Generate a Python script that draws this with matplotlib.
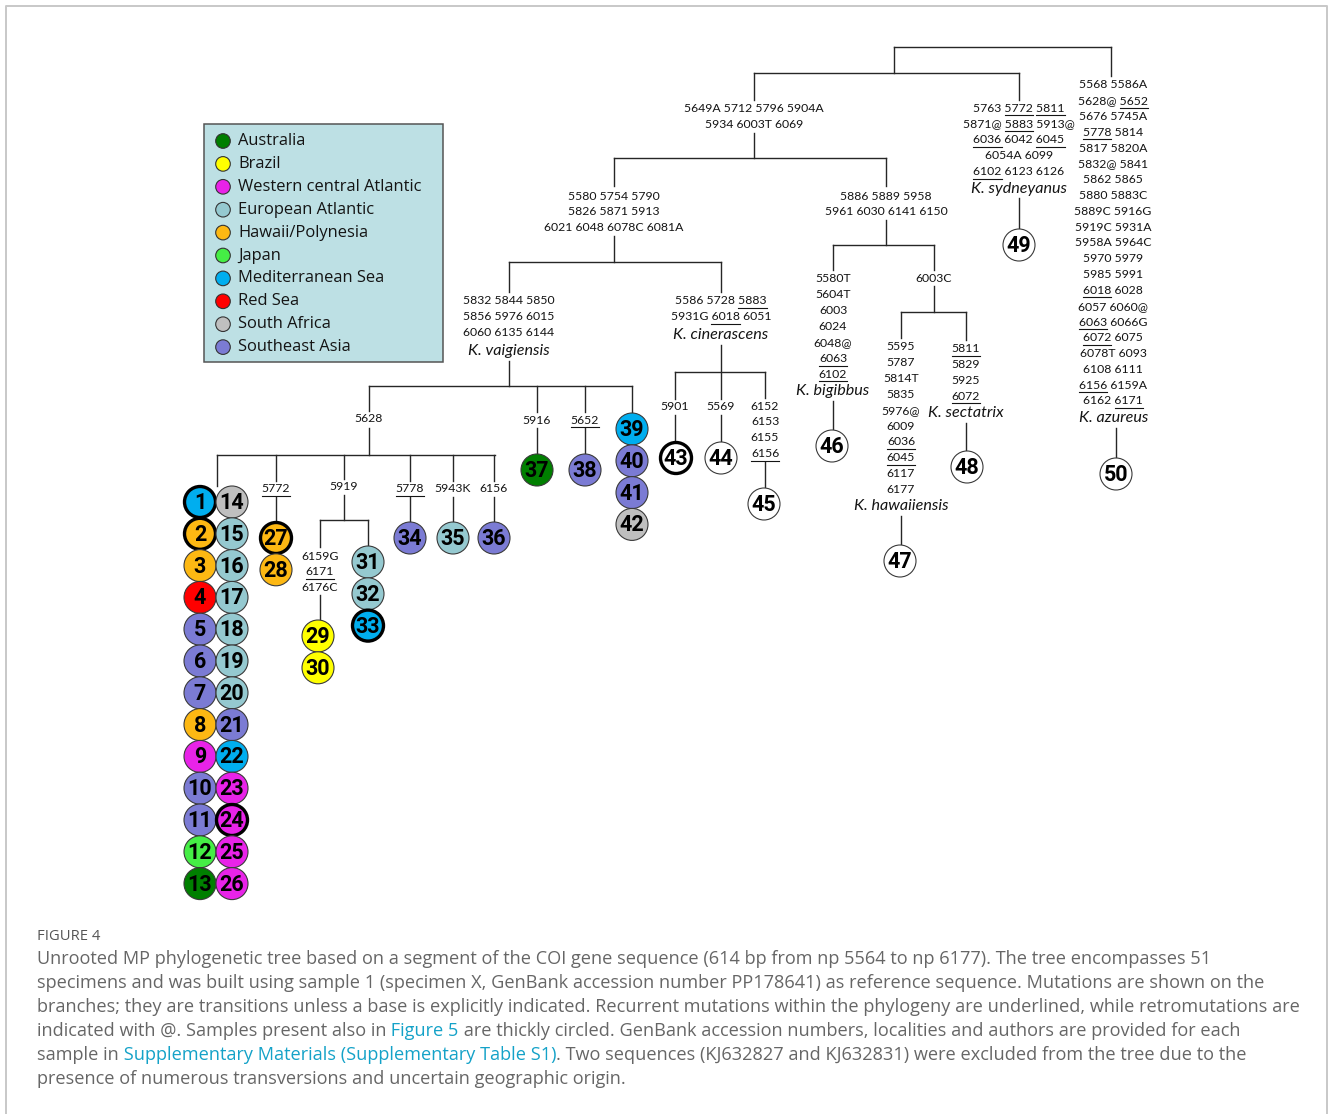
import matplotlib.pyplot as plt
from matplotlib.patches import Circle, Rectangle

# regions in legend order and their colours
regions = ["Australia", "Brazil", "Western central Atlantic", "European Atlantic",
           "Hawaii/Polynesia", "Japan", "Mediterranean Sea", "Red Sea",
           "South Africa", "Southeast Asia"]
region_colors = ["#007F00", "#FFFF00", "#E823E8", "#95C9D0", "#FDB813",
                 "#45EE45", "#00AEEF", "#FF0000", "#BFBFBF", "#7B7BD4"]

# region index of samples 1..42 (43-50 have no region -> white)
sample_region = [6, 4, 4, 7, 9, 9, 9, 4, 2, 9, 9, 5, 0,
                 8, 3, 3, 3, 3, 3, 3, 9, 6, 2, 2, 2, 2,
                 4, 4, 1, 1, 3, 3, 6, 9, 3, 9, 0, 9, 6, 9, 9, 8]
thick = [1, 2, 24, 27, 33, 43]

# mutations on the branches, "_" marks an underlined (recurrent) one
mut_a = ["5649A 5712 5796 5904A", "5934 6003T 6069"]
mut_b = ["5580 5754 5790", "5826 5871 5913", "6021 6048 6078C 6081A"]
mut_vaig = ["5832 5844 5850", "5856 5976 6015", "6060 6135 6144"]
mut_ciner = ["5586 5728 _5883", "5931G _6018 6051"]
mut_c = ["5886 5889 5958", "5961 6030 6141 6150"]
mut_bigib = ["5580T", "5604T", "6003", "6024", "6048@", "_6063", "_6102"]
mut_d = ["6003C"]
mut_hawaii = ["5595", "5787", "5814T", "5835", "5976@", "6009", "_6036", "_6045", "6117", "6177"]
mut_sect = ["_5811", "5829", "5925", "_6072"]
mut_sydn = ["5763 _5772 _5811", "5871@ _5883 5913@", "_6036 6042 _6045", "6054A 6099", "_6102 6123 6126"]
mut_azur = ["5568 5586A", "5628@ _5652", "5676 5745A", "_5778 5814", "5817 5820A",
            "5832@ 5841", "5862 5865", "5880 5883C", "5889C 5916G", "5919C 5931A",
            "5958A 5964C", "5970 5979", "5985 5991", "_6018 6028", "6057 6060@",
            "_6063 6066G", "_6072 6075", "6078T 6093", "6108 6111", "_6156 6159A", "6162 _6171"]
mut_5628 = ["5628"]
mut_27 = ["_5772"]
mut_5919 = ["5919"]
mut_29 = ["6159G", "_6171", "6176C"]
mut_34 = ["_5778"]
mut_35 = ["5943K"]
mut_36 = ["6156"]
mut_37 = ["5916"]
mut_38 = ["_5652"]
mut_43 = ["5901"]
mut_44 = ["5569"]
mut_45 = ["6152", "6153", "6155", "_6156"]

caption_title = "FIGURE 4"
caption_lines = [
    ["Unrooted MP phylogenetic tree based on a segment of the COI gene sequence (614 bp from np 5564 to np 6177). The tree encompasses 51"],
    ["specimens and was built using sample 1 (specimen X, GenBank accession number PP178641) as reference sequence. Mutations are shown on the"],
    ["branches; they are transitions unless a base is explicitly indicated. Recurrent mutations within the phylogeny are underlined, while retromutations are"],
    ["indicated with @. Samples present also in", " Figure 5", " are thickly circled. GenBank accession numbers, localities and authors are provided for each"],
    ["sample in", " Supplementary Materials (Supplementary Table S1)", ". Two sequences (KJ632827 and KJ632831) were excluded from the tree due to the"],
    ["presence of numerous transversions and uncertain geographic origin."],
]

W, H = 1330, 1114
fig = plt.figure(figsize=(W / 100, H / 100), dpi=100)
ax = fig.add_axes([0, 0, 1, 1])
ax.set_xlim(0, W)
ax.set_ylim(H, 0)
ax.axis("off")
renderer = fig.canvas.get_renderer()

LC = "#262626"
TREE_FONT = "Lato"


def seg(x0, y0, x1, y1):
    ax.plot([x0, x1], [y0, y1], color=LC, lw=1.0, solid_capstyle="projecting", zorder=1)


def text_width(s, **kw):
    t = ax.text(0, 0, s, **kw)
    w = t.get_window_extent(renderer).width
    t.remove()
    return w


def label(x, y, s, size=8.8, italic=False):
    plain = s.replace("_", "")
    kw = dict(fontsize=size, family=TREE_FONT, style="italic" if italic else "normal")
    ax.text(x, y, plain, ha="center", va="center", color="#141414", zorder=3, **kw)
    if "_" in s:
        total = text_width(plain, **kw)
        left = x - total / 2
        toks = s.split(" ")
        for k, tok in enumerate(toks):
            if tok.startswith("_"):
                pre = " ".join(toks[:k + 1]).replace("_", "")
                w_end = text_width(pre, **kw)
                w_tok = text_width(tok[1:], **kw)
                ax.plot([left + w_end - w_tok, left + w_end], [y + 7, y + 7],
                        color="#141414", lw=0.8, zorder=3)


def labels(x, y0, lines, step=15.9):
    for i, s in enumerate(lines):
        label(x, y0 + i * step, s)


def species(x, y, name):
    label(x, y, name, size=11.6, italic=True)


def stack(x, y0, samples, step=31.8):
    for i, n in enumerate(samples):
        y = y0 + i * step
        if n <= len(sample_region):
            fc = region_colors[sample_region[n - 1]]
        else:
            fc = "white"
        if n in thick:
            ax.add_patch(Circle((x, y), 15.5, facecolor=fc, edgecolor="black", lw=2.4, zorder=4))
        else:
            ax.add_patch(Circle((x, y), 16, facecolor=fc, edgecolor="#3a3a3a", lw=0.8, zorder=4))
        ax.text(x, y + 1, str(n), ha="center", va="center", fontsize=15.5,
                fontweight="bold", family="Roboto", color="black", zorder=5)


# outer frame
ax.plot([6, 6, 1327, 1327], [1130, 6, 6, 1130], color="#c8c8c8", lw=1.4, zorder=0)

# ---- top of the tree
seg(894, 47, 1111, 47)
seg(894, 47, 894, 73)
seg(1111, 47, 1111, 76)
seg(754, 73, 1019, 73)
seg(754, 73, 754, 100)
seg(1019, 73, 1019, 100)
labels(754, 109, mut_a)
seg(754, 133, 754, 158)
seg(614, 158, 886, 158)

# K. vaigiensis / K. cinerascens clade
seg(614, 158, 614, 186)
labels(614, 196, mut_b)
seg(614, 236, 614, 262)
seg(509, 262, 721, 262)
seg(509, 262, 509, 292)
labels(509, 301, mut_vaig)
species(509, 351, "K. vaigiensis")
seg(509, 361, 509, 386)
seg(369, 386, 632, 386)

seg(369, 386, 369, 411)
labels(369, 419, mut_5628)
seg(369, 428, 369, 455)
seg(217, 455, 495, 455)
seg(217, 455, 217, 486)
stack(200, 502, list(range(1, 14)))
stack(232, 502, list(range(14, 27)))

seg(276, 455, 276, 481)
labels(276, 489, mut_27)
seg(276, 497, 276, 522)
stack(276, 538, [27, 28])

seg(344, 455, 344, 479)
labels(344, 487, mut_5919)
seg(344, 495, 344, 520)
seg(320, 520, 368, 520)
seg(320, 520, 320, 547)
labels(320, 556, mut_29)
seg(320, 595, 320, 620)
stack(318, 636, [29, 30])
seg(368, 520, 368, 546)
stack(368, 562, [31, 32, 33])

for xb, mut, n in [(410, mut_34, 34), (453, mut_35, 35), (494, mut_36, 36)]:
    seg(xb, 455, xb, 481)
    labels(xb, 489, mut)
    seg(xb, 497, xb, 522)
    stack(xb, 538, [n])

for xb, mut, n in [(537, mut_37, 37), (585, mut_38, 38)]:
    seg(xb, 386, xb, 412)
    labels(xb, 420, mut)
    seg(xb, 428, xb, 454)
    stack(xb, 470, [n])

seg(632, 386, 632, 413)
stack(632, 429, [39, 40, 41, 42])

seg(721, 262, 721, 292)
labels(721, 301, mut_ciner)
species(721, 335, "K. cinerascens")
seg(721, 345, 721, 399)
seg(675, 372, 765, 372)
seg(675, 372, 675, 399)
labels(675, 407, mut_43)
seg(675, 415, 675, 442)
stack(676, 458, [43])
labels(721, 407, mut_44)
seg(721, 415, 721, 442)
stack(721, 458, [44])
seg(765, 372, 765, 398)
labels(765, 406, mut_45)
seg(765, 462, 765, 488)
stack(764, 504, [45])

# K. bigibbus / hawaiiensis / sectatrix clade
seg(886, 158, 886, 186)
labels(886, 196, mut_c)
seg(886, 220, 886, 245)
seg(833, 245, 934, 245)
seg(833, 245, 833, 270)
labels(833, 279, mut_bigib)
species(833, 391, "K. bigibbus")
seg(833, 401, 833, 430)
stack(832, 446, [46])

seg(934, 245, 934, 270)
labels(934, 278, mut_d)
seg(934, 286, 934, 312)
seg(901, 312, 966, 312)
seg(901, 312, 901, 338)
labels(901, 347, mut_hawaii, step=15.8)
species(901, 506, "K. hawaiiensis")
seg(901, 516, 901, 545)
stack(900, 561, [47])

seg(966, 312, 966, 340)
labels(966, 349, mut_sect, step=15.8)
species(966, 413, "K. sectatrix")
seg(966, 423, 966, 451)
stack(967, 467, [48])

# K. sydneyanus
labels(1019, 108, mut_sydn)
species(1019, 189, "K. sydneyanus")
seg(1019, 198, 1019, 229)
stack(1019, 245, [49])

# K. azureus
labels(1113, 85, mut_azur, step=15.8)
species(1114, 418, "K. azureus")
seg(1116, 428, 1116, 458)
stack(1116, 474, [50])

# ---- legend box
ax.add_patch(Rectangle((204, 124), 239, 238, facecolor="#BDE0E4", edgecolor="#555555", lw=1.1, zorder=2))
for i, (name, col) in enumerate(zip(regions, region_colors)):
    yy = 141 + i * 22.9
    ax.add_patch(Circle((223, yy), 7.3, facecolor=col, edgecolor="#333333", lw=0.8, zorder=3))
    ax.text(238, yy, name, ha="left", va="center", fontsize=11.9, family="Open Sans",
            color="#141414", zorder=3)

# ---- caption
ax.text(37, 936, caption_title, ha="left", va="center", fontsize=10.6, family="Open Sans",
        color="#555555")
link = "#14A2C8"
for i, parts in enumerate(caption_lines):
    yy = 959 + i * 24
    t = ax.text(37, yy, parts[0], ha="left", va="center", fontsize=13.1, family="Open Sans",
                color="#666666")
    for j, p in enumerate(parts[1:]):
        t = ax.annotate(p, xy=(1, 0.5), xycoords=t, ha="left", va="center", fontsize=13.1,
                        family="Open Sans", color=link if j == 0 else "#666666")

fig.savefig("out.png", dpi=100)
